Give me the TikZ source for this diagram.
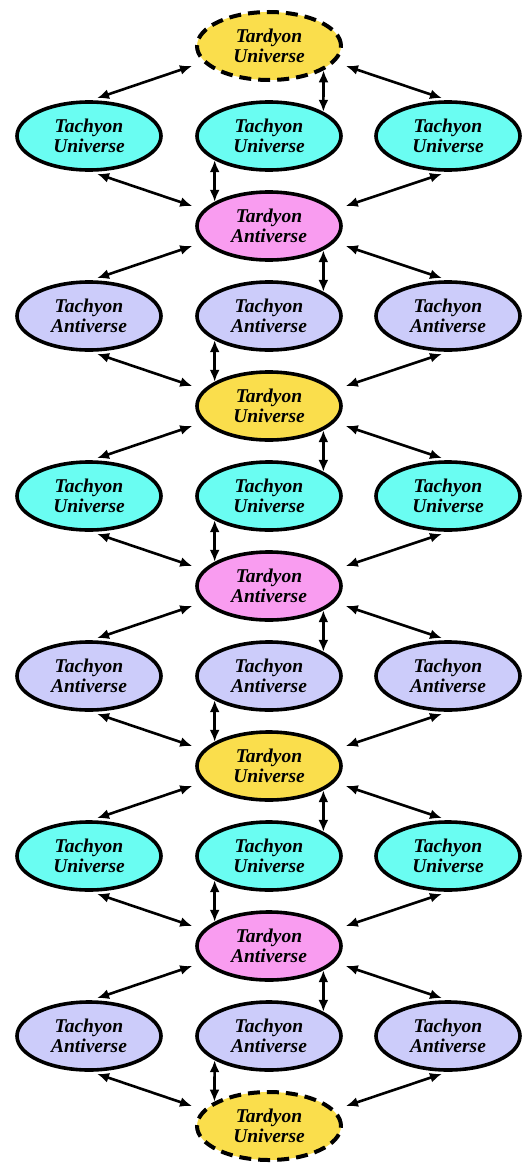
\documentclass[tikz,border=0pt]{standalone}
\usepackage{fontspec}
\setmainfont{Liberation Serif}
\usepackage{tikz}
\usetikzlibrary{shapes.geometric,arrows.meta,positioning}
\definecolor{tardU}{RGB}{250,222,76}
\definecolor{tardA}{RGB}{249,156,240}
\definecolor{tachU}{RGB}{106,253,242}
\definecolor{tachA}{RGB}{204,204,250}
\tikzset{
world/.style={ellipse,draw=black,line width=3.6pt,minimum width=144pt,minimum height=68pt,inner sep=0pt,align=center,font=\fontsize{19.5}{20.5}\selectfont\bfseries\itshape},
tardyonU/.style={world,fill=tardU},
tardyonUdash/.style={world,fill=tardU,line width=4pt,dash pattern=on 12pt off 7pt},
tardyonA/.style={world,fill=tardA},
tachyonU/.style={world,fill=tachU},
tachyonA/.style={world,fill=tachA},
link/.style={{Latex[length=12pt,width=10pt]}-{Latex[length=12pt,width=10pt]},line width=2.6pt}
}

\begin{document}
\begin{tikzpicture}[x=1pt,y=-1pt]
\useasboundingbox (0,0) rectangle (522,1164);
\node[tardyonUdash] (c0) at (269,46) {Tardyon\\Universe};
\node[tachyonU] (l1) at (89,136) {Tachyon\\Universe};
\node[tachyonU] (m1) at (269,136) {Tachyon\\Universe};
\node[tachyonU] (r1) at (448,136) {Tachyon\\Universe};
\node[tardyonA] (c1) at (269,226) {Tardyon\\Antiverse};
\node[tachyonA] (l2) at (89,316) {Tachyon\\Antiverse};
\node[tachyonA] (m2) at (269,316) {Tachyon\\Antiverse};
\node[tachyonA] (r2) at (448,316) {Tachyon\\Antiverse};
\node[tardyonU] (c2) at (269,406) {Tardyon\\Universe};
\node[tachyonU] (l3) at (89,496) {Tachyon\\Universe};
\node[tachyonU] (m3) at (269,496) {Tachyon\\Universe};
\node[tachyonU] (r3) at (448,496) {Tachyon\\Universe};
\node[tardyonA] (c3) at (269,586) {Tardyon\\Antiverse};
\node[tachyonA] (l4) at (89,676) {Tachyon\\Antiverse};
\node[tachyonA] (m4) at (269,676) {Tachyon\\Antiverse};
\node[tachyonA] (r4) at (448,676) {Tachyon\\Antiverse};
\node[tardyonU] (c4) at (269,766) {Tardyon\\Universe};
\node[tachyonU] (l5) at (89,856) {Tachyon\\Universe};
\node[tachyonU] (m5) at (269,856) {Tachyon\\Universe};
\node[tachyonU] (r5) at (448,856) {Tachyon\\Universe};
\node[tardyonA] (c5) at (269,946) {Tardyon\\Antiverse};
\node[tachyonA] (l6) at (89,1036) {Tachyon\\Antiverse};
\node[tachyonA] (m6) at (269,1036) {Tachyon\\Antiverse};
\node[tachyonA] (r6) at (448,1036) {Tachyon\\Antiverse};
\node[tardyonUdash] (c6) at (269,1126) {Tardyon\\Universe};
\draw[link] (c0.-24) -- (m1.24);
\draw[link] (m1.204) -- (c1.156);
\draw[link] (c1.-24) -- (m2.24);
\draw[link] (m2.204) -- (c2.156);
\draw[link] (c2.-24) -- (m3.24);
\draw[link] (m3.204) -- (c3.156);
\draw[link] (c3.-24) -- (m4.24);
\draw[link] (m4.204) -- (c4.156);
\draw[link] (c4.-24) -- (m5.24);
\draw[link] (m5.204) -- (c5.156);
\draw[link] (c5.-24) -- (m6.24);
\draw[link] (m6.204) -- (c6.156);
\draw[link] ([xshift=-3pt,yshift=-20pt]c0.west) -- ([xshift=8pt,yshift=2pt]l1.north);
\draw[link] ([xshift=3pt,yshift=-20pt]c0.east) -- ([xshift=-6pt,yshift=2pt]r1.north);
\draw[link] ([xshift=8pt,yshift=-2pt]l1.south) -- ([xshift=-3pt,yshift=20pt]c1.west);
\draw[link] ([xshift=-6pt,yshift=-2pt]r1.south) -- ([xshift=3pt,yshift=20pt]c1.east);
\draw[link] ([xshift=-3pt,yshift=-20pt]c1.west) -- ([xshift=8pt,yshift=2pt]l2.north);
\draw[link] ([xshift=3pt,yshift=-20pt]c1.east) -- ([xshift=-6pt,yshift=2pt]r2.north);
\draw[link] ([xshift=8pt,yshift=-2pt]l2.south) -- ([xshift=-3pt,yshift=20pt]c2.west);
\draw[link] ([xshift=-6pt,yshift=-2pt]r2.south) -- ([xshift=3pt,yshift=20pt]c2.east);
\draw[link] ([xshift=-3pt,yshift=-20pt]c2.west) -- ([xshift=8pt,yshift=2pt]l3.north);
\draw[link] ([xshift=3pt,yshift=-20pt]c2.east) -- ([xshift=-6pt,yshift=2pt]r3.north);
\draw[link] ([xshift=8pt,yshift=-2pt]l3.south) -- ([xshift=-3pt,yshift=20pt]c3.west);
\draw[link] ([xshift=-6pt,yshift=-2pt]r3.south) -- ([xshift=3pt,yshift=20pt]c3.east);
\draw[link] ([xshift=-3pt,yshift=-20pt]c3.west) -- ([xshift=8pt,yshift=2pt]l4.north);
\draw[link] ([xshift=3pt,yshift=-20pt]c3.east) -- ([xshift=-6pt,yshift=2pt]r4.north);
\draw[link] ([xshift=8pt,yshift=-2pt]l4.south) -- ([xshift=-3pt,yshift=20pt]c4.west);
\draw[link] ([xshift=-6pt,yshift=-2pt]r4.south) -- ([xshift=3pt,yshift=20pt]c4.east);
\draw[link] ([xshift=-3pt,yshift=-20pt]c4.west) -- ([xshift=8pt,yshift=2pt]l5.north);
\draw[link] ([xshift=3pt,yshift=-20pt]c4.east) -- ([xshift=-6pt,yshift=2pt]r5.north);
\draw[link] ([xshift=8pt,yshift=-2pt]l5.south) -- ([xshift=-3pt,yshift=20pt]c5.west);
\draw[link] ([xshift=-6pt,yshift=-2pt]r5.south) -- ([xshift=3pt,yshift=20pt]c5.east);
\draw[link] ([xshift=-3pt,yshift=-20pt]c5.west) -- ([xshift=8pt,yshift=2pt]l6.north);
\draw[link] ([xshift=3pt,yshift=-20pt]c5.east) -- ([xshift=-6pt,yshift=2pt]r6.north);
\draw[link] ([xshift=8pt,yshift=-2pt]l6.south) -- ([xshift=-3pt,yshift=20pt]c6.west);
\draw[link] ([xshift=-6pt,yshift=-2pt]r6.south) -- ([xshift=3pt,yshift=20pt]c6.east);
\end{tikzpicture}
\end{document}
